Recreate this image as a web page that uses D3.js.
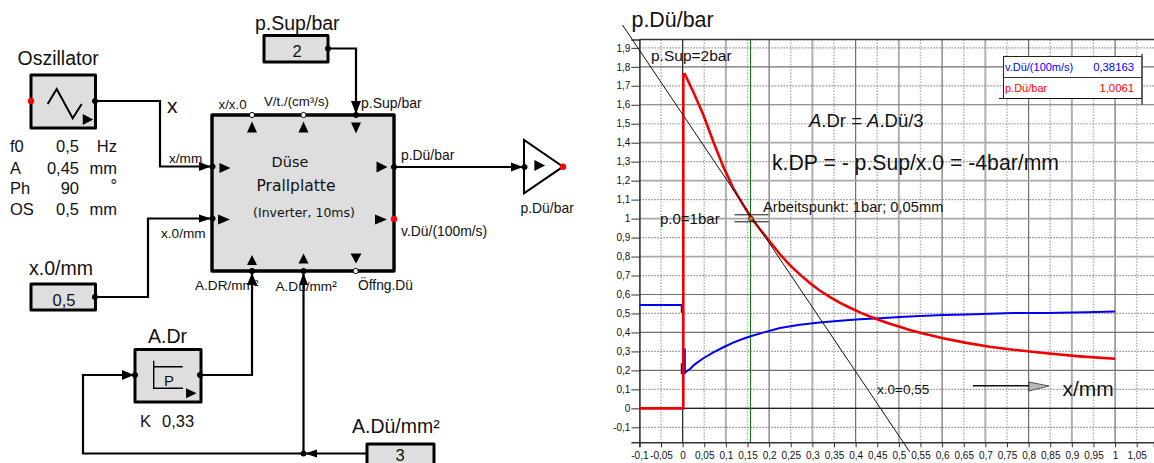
<!DOCTYPE html>
<html>
<head>
<meta charset="utf-8">
<title>Düse Prallplatte</title>
<script src="https://cdnjs.cloudflare.com/ajax/libs/d3/7.8.5/d3.min.js"></script>
<style>
  body { margin: 0; background: #fff; }
  svg { display: block; }
  text { font-family: "Liberation Sans", Arial, sans-serif; fill: #111; }
</style>
</head>
<body>
<script>
// values
const xTicks = [-0.1, -0.05, 0, 0.05, 0.1, 0.15, 0.2, 0.25, 0.3, 0.35, 0.4, 0.45, 0.5, 0.55, 0.6, 0.65, 0.7, 0.75, 0.8, 0.85, 0.9, 0.95, 1, 1.05];
const yTicks = [-0.1, 0, 0.1, 0.2, 0.3, 0.4, 0.5, 0.6, 0.7, 0.8, 0.9, 1, 1.1, 1.2, 1.3, 1.4, 1.5, 1.6, 1.7, 1.8, 1.9];

const pressureX = [-0.1, 0.0015, 0.0015, 0.005, 0.0245, 0.048, 0.071, 0.094, 0.117, 0.14, 0.158, 0.18, 0.202, 0.225, 0.248, 0.271, 0.294, 0.317, 0.341, 0.364, 0.387, 0.41, 0.433, 0.456, 0.479, 0.502, 0.525, 0.549, 0.602, 0.656, 0.71, 0.764, 0.841, 0.918, 1];
const pressureY = [0, 0, 1.76, 1.762, 1.669, 1.546, 1.405, 1.274, 1.16, 1.072, 1.006, 0.94, 0.878, 0.812, 0.755, 0.706, 0.661, 0.621, 0.586, 0.556, 0.53, 0.506, 0.484, 0.464, 0.446, 0.43, 0.413, 0.398, 0.369, 0.345, 0.325, 0.309, 0.29, 0.274, 0.261];

const velocityX = [-0.1, -0.002, -0.002, 0.001, 0.001, -0.002, -0.002, 0.005, 0.005, 0.005, 0.017, 0.028, 0.048, 0.071, 0.094, 0.117, 0.14, 0.159, 0.186, 0.225, 0.271, 0.317, 0.364, 0.41, 0.456, 0.502, 0.549, 0.602, 0.656, 0.764, 0.841, 0.934, 1];
const velocityY = [0.545, 0.545, 0.509, 0.509, 0.233, 0.233, 0.186, 0.186, 0.316, 0.188, 0.207, 0.232, 0.264, 0.295, 0.322, 0.346, 0.367, 0.381, 0.399, 0.423, 0.441, 0.453, 0.462, 0.469, 0.475, 0.482, 0.487, 0.492, 0.495, 0.502, 0.502, 0.506, 0.51];

const tangentX = [-0.139, 0.525];
const tangentY = [2.02, -0.229];
const workX = 0.158, workY = 1;

const legendNames = ["v.Dü/(100m/s)", "p.Dü/bar"];
const legendValues = ["0,38163", "1,0061"];
const legendColors = ["#0000ff", "#ff0000"];

const oscNames = ["f0", "A", "Ph", "OS"];
const oscValues = ["0,5", "0,45", "90", "0,5"];
const oscUnits = ["Hz", "mm", "°", "mm"];

const lightRows = [0.8, 1, 1.2, 1.4];

const comma = d => String(d).replace(".", ",");

const width = 1154, height = 463;
const svg = d3.select("body").append("svg").attr("width", width).attr("height", height);

// ---------- right side: the chart ----------
const x = d3.scaleLinear().domain([-0.1, 1.09]).range([639.4, 1154]);
const y = d3.scaleLinear().domain([-0.179, 1.944]).range([442.3, 39.5]);

const chart = svg.append("g");
const isMajorX = d => Math.abs(d * 10 - Math.round(d * 10)) < 1e-6;
const isMajorY = d => Math.abs(Math.round(d * 10) % 2) === 0;

// vertical grid
chart.selectAll(".vgrid").data(xTicks.filter(d => d > -0.1)).enter().append("line")
  .attr("class", "vgrid")
  .attr("x1", d => x(d)).attr("x2", d => x(d))
  .attr("y1", y.range()[1]).attr("y2", y.range()[0])
  .attr("stroke", d => isMajorX(d) ? (Math.round(d * 10) % 2 ? "#b0b0b0" : "#6e6e6e") : "#b4b4b4")
  .attr("stroke-width", d => isMajorX(d) ? (Math.round(d * 10) % 2 ? 2 : 1.2) : 1.5)
  .attr("stroke-dasharray", d => isMajorX(d) ? null : "1.5,1.5");

// horizontal grid
chart.selectAll(".hgrid").data(yTicks).enter().append("line")
  .attr("class", "hgrid")
  .attr("x1", x(-0.1)).attr("x2", width)
  .attr("y1", d => y(d)).attr("y2", d => y(d))
  .attr("stroke", d => isMajorY(d) ? (lightRows.includes(d) ? "#a8a8a8" : "#707070") : "#8c8c8c")
  .attr("stroke-width", d => isMajorY(d) ? (lightRows.includes(d) ? 1.8 : 1.2) : 1.2)
  .attr("stroke-dasharray", d => isMajorY(d) ? null : "1.5,1.5");

// axes
const xAxis = chart.append("g")
  .attr("transform", "translate(0," + y.range()[0] + ")")
  .call(d3.axisBottom(x).tickValues(xTicks).tickSize(5).tickPadding(5).tickFormat(comma));
const yAxis = chart.append("g")
  .attr("transform", "translate(" + x(-0.1) + ",0)")
  .call(d3.axisLeft(y).tickValues(yTicks).tickSize(8).tickPadding(1).tickFormat(comma));
[xAxis, yAxis].forEach(a => {
  a.selectAll("text").attr("font-family", "Liberation Sans").style("font-size", "10px").style("fill", "#111");
  a.selectAll("line").attr("stroke", "#333");
  a.select(".domain").attr("stroke", "#333").attr("stroke-width", 1.6);
});

// frame + zero lines
chart.append("line").attr("x1", x(-0.1)).attr("x2", width).attr("y1", y.range()[1]).attr("y2", y.range()[1]).attr("stroke", "#333").attr("stroke-width", 1.4);
chart.append("line").attr("x1", x(-0.1)).attr("x2", width).attr("y1", y(0)).attr("y2", y(0)).attr("stroke", "#222").attr("stroke-width", 1.1);
chart.append("line").attr("x1", x(0)).attr("x2", x(0)).attr("y1", y.range()[1]).attr("y2", y.range()[0]).attr("stroke", "#222").attr("stroke-width", 1);
chart.append("line").attr("x1", x(workX)).attr("x2", x(workX)).attr("y1", y.range()[1]).attr("y2", y.range()[0]).attr("stroke", "#0a7a0a").attr("stroke-width", 1).attr("shape-rendering", "crispEdges");

const line = d3.line().x(d => x(d[0])).y(d => y(d[1]));

chart.append("path")
  .datum(d3.zip(velocityX, velocityY))
  .attr("d", line).attr("fill", "none").attr("stroke", "#0000f0").attr("stroke-width", 2);
chart.append("path")
  .datum(d3.zip(pressureX, pressureY))
  .attr("d", line).attr("fill", "none").attr("stroke", "#f00000").attr("stroke-width", 2.6);
chart.append("path")
  .datum(d3.zip(tangentX, tangentY))
  .attr("d", line).attr("fill", "none").attr("stroke", "#111").attr("stroke-width", 1);

// working point marker
[-3.8, 3.2].forEach(dy => {
  chart.append("line")
    .attr("x1", x(workX) - 16.5).attr("x2", x(workX) + 17.5)
    .attr("y1", y(workY) + dy).attr("y2", y(workY) + dy)
    .attr("stroke", "#111").attr("stroke-width", 1);
});
chart.append("circle").attr("cx", x(workX)).attr("cy", y(workY)).attr("r", 2.4)
  .attr("fill", "#e07800").attr("stroke", "#111").attr("stroke-width", 0.8);

// legend box
const lg = chart.append("g");
lg.append("rect").attr("x", 1003.5).attr("y", 56.5).attr("width", 138.5).attr("height", 42)
  .attr("fill", "#fff").attr("stroke", "#222");
lg.append("line").attr("x1", 1003.5).attr("x2", 1142).attr("y1", 77.5).attr("y2", 77.5).attr("stroke", "#333");
lg.append("line").attr("x1", 999).attr("x2", 1142).attr("y1", 98.5).attr("y2", 98.5).attr("stroke", "#111");
lg.append("line").attr("x1", 1142).attr("x2", 1142).attr("y1", 54).attr("y2", 105).attr("stroke", "#555").attr("stroke-width", 1.6);
lg.selectAll(".lname").data(legendNames).enter().append("text")
  .attr("x", 1005).attr("y", (d, i) => 71 + i * 21).style("font-size", "11px")
  .style("fill", (d, i) => legendColors[i]).text(d => d);
lg.selectAll(".lval").data(legendValues).enter().append("text")
  .attr("x", 1134).attr("y", (d, i) => 71 + i * 21).attr("text-anchor", "end").style("font-size", "11.3px")
  .style("fill", (d, i) => legendColors[i]).text(d => d);

// chart annotations
function label(parent, str, px, py, size, anchor) {
  return parent.append("text").attr("x", px).attr("y", py).attr("text-anchor", anchor || "start")
    .style("font-size", size + "px").text(str);
}
label(chart, "p.Dü/bar", 631.5, 27, 21.4);
label(chart, "p.Sup=2bar", 651, 61, 15.5);
label(chart, "k.DP = - p.Sup/x.0 = -4bar/mm", 772, 170, 21.2);
label(chart, "Arbeitspunkt: 1bar; 0,05mm", 763, 212, 14.7);
label(chart, "p.0=1bar", 660, 224, 15);
label(chart, "x.0=0,55", 877, 394, 13.5);
label(chart, "x/mm", 1062.5, 396, 21);
const adr = label(chart, "", 809, 127, 18.5);
adr.append("tspan").style("font-style", "italic").text("A");
adr.append("tspan").text(".Dr = ");
adr.append("tspan").style("font-style", "italic").text("A");
adr.append("tspan").text(".Dü/3");

// x direction arrow
chart.append("line").attr("x1", 973).attr("x2", 1030).attr("y1", 385.7).attr("y2", 385.7).attr("stroke", "#111").attr("stroke-width", 1.5);
chart.append("path").attr("d", "M1029,382L1049,386L1029,391Z").attr("fill", "#b8b8b8").attr("stroke", "#333").attr("stroke-width", 0.8);

// ---------- left side: block diagram ----------
const diag = svg.append("g");
const grey = "#dedede";

function box(x0, y0, x1, y1, sw) {
  diag.append("rect").attr("x", x0).attr("y", y0).attr("width", x1 - x0).attr("height", y1 - y0)
    .attr("fill", grey).attr("stroke", "#000").attr("stroke-width", sw || 3).attr("stroke-linejoin", "round");
}
function wire(points) {
  diag.append("path").attr("d", d3.line()(points)).attr("fill", "none")
    .attr("stroke", "#000").attr("stroke-width", 2.2);
}
function dot(cx, cy, kind) {
  diag.append("circle").attr("cx", cx).attr("cy", cy).attr("r", kind === "red" ? 3.2 : 2.6)
    .attr("fill", kind === "red" ? "#ff0000" : kind === "white" ? "#fff" : "#000")
    .attr("stroke", kind === "red" ? "none" : "#000").attr("stroke-width", 1);
}
// triangle: (cx,cy) is the centre of its bounding box, dir = r, l, u, d
function tri(cx, cy, dir, w, h) {
  w = w || 11; h = h || 10;
  let pts;
  if (dir === "r") pts = [[cx - w / 2, cy - h / 2], [cx + w / 2, cy], [cx - w / 2, cy + h / 2]];
  if (dir === "l") pts = [[cx + w / 2, cy - h / 2], [cx - w / 2, cy], [cx + w / 2, cy + h / 2]];
  if (dir === "u") pts = [[cx - h / 2, cy + w / 2], [cx, cy - w / 2], [cx + h / 2, cy + w / 2]];
  if (dir === "d") pts = [[cx - h / 2, cy - w / 2], [cx, cy + w / 2], [cx + h / 2, cy - w / 2]];
  diag.append("path").attr("d", d3.line()(pts) + "Z").attr("fill", "#000");
}

// wires first so blocks sit on top
wire([[95, 101], [160, 101], [160, 166.5], [212, 166.5]]);
wire([[95, 297], [148, 297], [148, 218.5], [212, 218.5]]);
wire([[328, 48.5], [356, 48.5], [356, 115]]);
wire([[394, 167], [524, 167]]);
wire([[201, 375], [252, 375], [252, 271]]);
wire([[134, 375], [83, 375], [83, 453.5], [367, 453.5]]);
wire([[303.5, 271], [303.5, 453.5]]);

// oscillator
box(31, 75, 95.5, 128);
diag.append("path").attr("d", d3.line()([[47.7, 104], [56.7, 89], [72.7, 118.3], [81.7, 104]]))
  .attr("fill", "none").attr("stroke", "#000").attr("stroke-width", 2);
tri(88, 119.5, "r", 10.5, 11);
dot(31, 101, "red");
dot(95, 101);
label(diag, "Oszillator", 17.5, 65, 19.5);
diag.selectAll(".oname").data(oscNames).enter().append("text")
  .attr("x", 10).attr("y", (d, i) => [152, 174, 194, 215][i]).style("font-size", "16.5px").text(d => d);
diag.selectAll(".oval").data(oscValues).enter().append("text")
  .attr("x", 79).attr("y", (d, i) => [152, 174, 194, 215][i]).attr("text-anchor", "end").style("font-size", "16.5px").text(d => d);
diag.selectAll(".ounit").data(oscUnits).enter().append("text")
  .attr("x", 117).attr("y", (d, i) => [152, 174, 191, 215][i]).attr("text-anchor", "end").style("font-size", "16.5px").text(d => d);

// value blocks
box(264, 35.5, 328, 62);
label(diag, "p.Sup/bar", 255, 30, 19.5);
label(diag, "2", 297, 57, 16.5, "middle");
dot(328, 48.5);

box(31, 284, 95.5, 310);
label(diag, "x.0/mm", 29, 275, 19.5);
label(diag, "0,5", 64, 306, 16.5, "middle");
dot(95, 297);

box(367, 444, 434, 470);
label(diag, "A.Dü/mm²", 352, 433, 19.5);
label(diag, "3", 400, 461, 16.5, "middle");

// A.Dr block
box(135, 349.5, 201, 402);
diag.append("path").attr("d", "M153.7,360.7V388.3H183M153.7,366.7H182.7").attr("fill", "none").attr("stroke", "#000").attr("stroke-width", 1.4);
label(diag, "P", 164, 386, 15);
tri(191.3, 393.3, "r", 10.5, 10);
dot(135, 375);
dot(200, 375);
label(diag, "A.Dr", 148, 342.5, 19.5);
label(diag, "K", 140, 426.5, 16.5);
label(diag, "0,33", 162, 426.5, 16.5);
tri(128, 375, "r", 12, 10);
dot(303.5, 453.5);
tri(311, 453.5, "l", 12, 8);

// main block
box(212, 115, 394, 271, 3.4);
const comic = "'Comic Sans MS', 'DejaVu Sans', sans-serif";
diag.append("text").attr("x", 290).attr("y", 167).attr("text-anchor", "middle")
  .style("font-family", comic).style("font-size", "14.5px").text("Düse");
diag.append("text").attr("x", 296).attr("y", 191).attr("text-anchor", "middle")
  .style("font-family", comic).style("font-size", "15.5px").text("Prallplatte");
diag.append("text").attr("x", 304).attr("y", 217).attr("text-anchor", "middle")
  .style("font-family", comic).style("font-size", "12.5px").text("(Inverter, 10ms)");

tri(252, 127, "u", 11, 10); tri(303.5, 127, "u", 11, 10); tri(356, 128, "d", 11, 10);
tri(225, 168, "r", 11, 10); tri(224, 219.5, "r", 12, 10);
tri(382, 167, "r", 11, 11); tri(381, 219.5, "r", 12, 10);
tri(252, 260, "u", 10, 10); tri(303.5, 258.5, "u", 10, 10); tri(356, 258.5, "d", 10, 11);
dot(252, 115, "white"); dot(303.5, 115, "white"); dot(356, 115);
dot(212.5, 166.5); dot(212.5, 218.5);
dot(394, 167); dot(394, 219, "red");
dot(252, 271); dot(303.5, 271); dot(355.7, 271, "white");

// wire arrowheads into blocks
tri(205, 166.5, "r", 12, 9); tri(205, 218.5, "r", 12, 8);
tri(356, 107.5, "d", 13, 10);
tri(252, 279, "u", 12, 10); tri(303.5, 279, "u", 12, 9);

// port labels
label(diag, "x/x.0", 218.5, 109, 13.3);
label(diag, "V/t./(cm³/s)", 264, 106, 13.3);
label(diag, "p.Sup/bar", 361, 108, 14);
label(diag, "x/mm", 169, 163, 13.6);
label(diag, "x", 167, 113, 21);
label(diag, "x.0/mm", 161, 238, 13.6);
label(diag, "p.Dü/bar", 401, 160, 13.9);
label(diag, "v.Dü/(100m/s)", 401, 236, 13.9);
label(diag, "A.DR/mm²", 195, 290, 13.6);
label(diag, "A.Dü/mm²", 275.5, 291, 13.6);
label(diag, "Öffng.Dü", 358, 290, 13.8);

// output block
diag.append("path").attr("d", "M524,140L524,193.3L563,166.7Z").attr("fill", "#fff").attr("stroke", "#000").attr("stroke-width", 2).attr("stroke-linejoin", "miter");
tri(517, 167, "r", 12, 9);
dot(524.5, 167);
tri(539.7, 165.5, "r", 10.7, 11);
dot(563, 166.7, "red");
label(diag, "p.Dü/bar", 520.5, 213, 13.9);
</script>
</body>
</html>
